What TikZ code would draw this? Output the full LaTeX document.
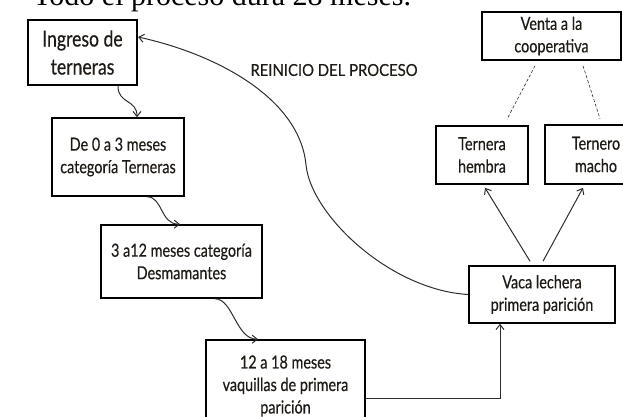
\documentclass[tikz,border=0pt]{standalone}
\usepackage{fontspec}
\setmainfont{Lato}
\newfontfamily\narrowf[FakeStretch=0.8,FakeBold=0.4]{Lato}
\newfontfamily\lblf[FakeStretch=0.9,FakeBold=0.3]{Lato}
\newfontfamily\timesf{Liberation Serif}
\usetikzlibrary{arrows.meta,calc}
\definecolor{ink}{HTML}{1E1A16}
\definecolor{wire}{HTML}{2E2E2E}
\begin{document}
\begin{tikzpicture}[x=1pt,y=-1pt,
  box/.style={draw=black, line width=1.6pt, inner sep=0pt, align=center, text=ink,
              font=\narrowf\fontsize{18}{22.5}\selectfont},
  conn/.style={draw=wire, line width=1pt, -{Straight Barb[length=5pt,width=8pt]}},
  dashconn/.style={draw=wire, line width=0.6pt, dashed, dash pattern=on 3pt off 2pt},
  ]
\useasboundingbox (0,0) rectangle (623,416);
\clip (0,0) rectangle (623,416);
\fill[white] (0,0) rectangle (623,416);

\node[font=\timesf\fontsize{30}{30}\selectfont, anchor=base west, inner sep=0pt] (title) at (33,5) {Todo el proceso dura 28 meses.};

\node[box, line width=2.2pt, minimum width=109pt, minimum height=65pt,
      font=\narrowf\fontsize{22}{28}\selectfont] (ing) at (82.5,52.5) {Ingreso de\\terneras};
\node[box, minimum width=132pt, minimum height=78pt] (b2) at (118,157) {De 0 a 3 meses\\categoría Terneras};
\node[box, minimum width=161pt, minimum height=73pt] (b3) at (181.5,261.5) {3 a12 meses categoría\\Desmamantes};
\node[box, minimum width=159pt, minimum height=92pt] (b4) at (285.5,386) {12 a 18 meses\\vaquillas de primera\\parición};
\node[box, minimum width=146pt, minimum height=57pt] (vaca) at (542,294.5) {Vaca lechera\\primera parición};
\node[box, minimum width=92pt, minimum height=58pt] (th) at (482,155) {Ternera\\hembra};
\node[box, minimum width=102pt, minimum height=59pt] (tm) at (596,154.5) {Ternero\\macho};
\node[box, minimum width=139pt, minimum height=48pt] (venta) at (551.5,36) {Venta a la\\cooperativa};

\node[text=ink, font=\lblf\fontsize{16.5}{18}\selectfont, inner sep=0pt] (lbl) at (334,70) {REINICIO DEL PROCESO};

% wavy connectors
\coordinate (c1a) at ($(ing.south)+(35.5,0)$);
\coordinate (c1b) at ($(b2.north)+(19,0)$);
\draw[conn] (c1a) .. controls ($(c1a)+(0,18)$) and ($(c1b)+(0,-18)$) .. (c1b);

\coordinate (c2a) at ($(b2.south)+(29,0)$);
\coordinate (c2b) at ($(b3.north)+(-1.5,0)$);
\draw[conn] (c2a) .. controls ($(c2a)+(16,0)$) and ($(c2b)+(-20,0)$) .. (c2b);

\coordinate (c3a) at ($(b3.south)+(33.5,0)$);
\coordinate (c3b) at ($(b4.north)+(-27.5,0)$);
\draw[conn] (c3a) .. controls ($(c3a)+(18,0)$) and ($(c3b)+(-22,0)$) .. (c3b);

% elbow connector
\coordinate (c4a) at ($(b4.east)+(0,12)$);
\coordinate (c4b) at ($(vaca.south)+(-42,0)$);
\draw[conn] (c4a) -| (c4b);

% vaca to calves
\draw[conn] ($(vaca.north)+(-12,-4)$) -- ($(th.south)+(3,3)$);
\draw[conn] ($(vaca.north)+(1,-4)$) -- ($(tm.south)+(-13,3)$);

% dashed to venta
\draw[dashconn] ($(venta.south)+(-16.5,5)$) -- ($(th.north)+(25,-6)$);
\draw[dashconn] ($(venta.south)+(31.5,5)$) -- ($(tm.north)+(4,-5.5)$);

% restart curve
\coordinate (rmid) at (306,165);
\draw[conn] (vaca.west) .. controls (390,290) and (311,215) .. (rmid)
   .. controls (300,100) and (220,55) .. ($(ing.east)+(0,-15.5)$);
\end{tikzpicture}
\end{document}
